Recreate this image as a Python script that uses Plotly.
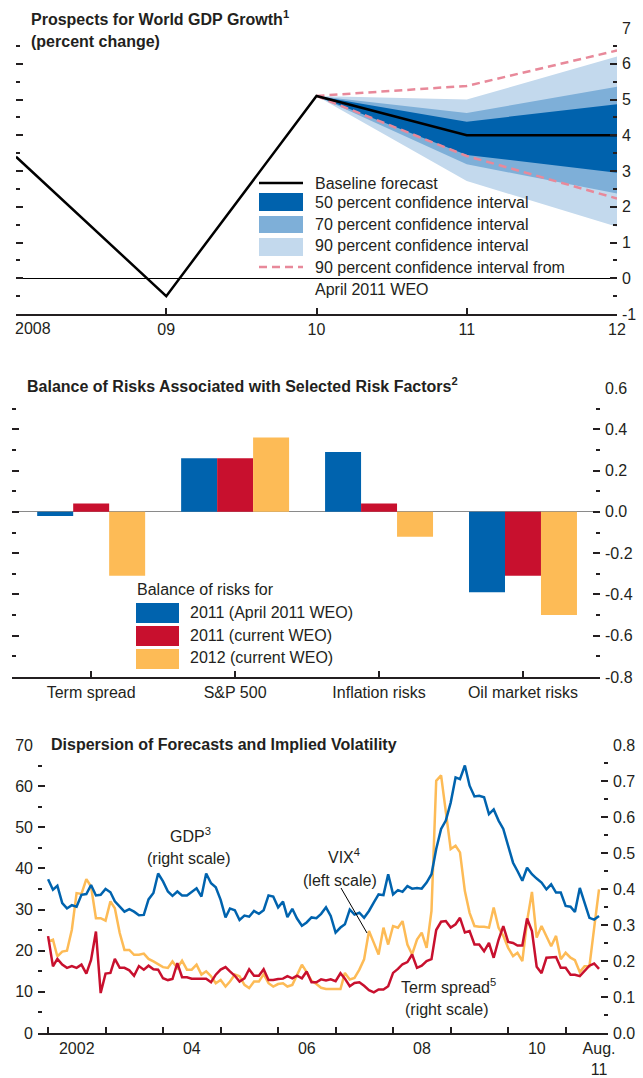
import plotly.graph_objects as go
import pandas as pd

W, H = 643, 1078
def px(x): return x / W
def py(y): return 1 - y / H

FONT = "Liberation Sans, Arial, sans-serif"
TXT = "#231f20"
AX = "#231f20"

# ---------------- Panel 1: Prospects for World GDP Growth ----------------
gdp_years = [2008, 2009, 2010, 2011, 2012]
gdp_baseline = [3.4, -0.5, 5.1, 4.0, 4.0]
fan_years = [2010, 2011, 2012]
ci90_upper = [5.1, 5.0, 6.2]
ci90_lower = [5.1, 2.72, 1.44]
ci70_upper = [5.1, 4.62, 5.36]
ci70_lower = [5.1, 3.19, 2.37]
ci50_upper = [5.1, 4.38, 4.87]
ci50_lower = [5.1, 3.45, 2.95]
apr_upper = [5.1, 5.38, 6.37]
apr_lower = [5.1, 3.42, 2.23]
p1_xticks = [2008, 2009, 2010, 2011, 2012]
p1_xlabels = ["", "09", "10", "11", "12"]
p1_first_label = "2008"
p1_yticks = [-1, 0, 1, 2, 3, 4, 5, 6, 7]
p1_ylabels = ["-1", "0", "1", "2", "3", "4", "5", "6", "7"]
p1_yminor = [-0.5, 0.5, 1.5, 2.5, 3.5, 4.5, 5.5, 6.5]

# ---------------- Panel 2: Balance of risks ----------------
risk_factors = ["Term spread", "S&P 500", "Inflation risks", "Oil market risks"]
risk_2011_april = [-0.02, 0.26, 0.29, -0.39]
risk_2011_current = [0.04, 0.26, 0.04, -0.31]
risk_2012_current = [-0.31, 0.36, -0.12, -0.50]
p2_yticks = [-0.8, -0.6, -0.4, -0.2, 0.0, 0.2, 0.4, 0.6]
p2_ylabels = ["-0.8", "-0.6", "-0.4", "-0.2", "0.0", "0.2", "0.4", "0.6"]
p2_yminor = [-0.7, -0.5, -0.3, -0.1, 0.1, 0.3, 0.5]

# ---------------- Panel 3: Dispersion of forecasts and VIX ----------------
months = pd.date_range("2002-01-01", "2011-08-01", freq="MS")
gdp_dispersion = [
    0.427, 0.398, 0.409, 0.361, 0.346, 0.355, 0.351, 0.384, 0.386, 0.411,
    0.382, 0.384, 0.400, 0.391, 0.366, 0.351, 0.337, 0.344, 0.337, 0.327,
    0.328, 0.371, 0.389, 0.443, 0.421, 0.393, 0.381, 0.393, 0.382, 0.382,
    0.393, 0.402, 0.379, 0.443, 0.416, 0.405, 0.370, 0.321, 0.346, 0.341,
    0.314, 0.326, 0.323, 0.339, 0.331, 0.341, 0.382, 0.379, 0.349, 0.365,
    0.322, 0.345, 0.318, 0.298, 0.307, 0.321, 0.319, 0.331, 0.349, 0.325,
    0.279, 0.293, 0.302, 0.343, 0.329, 0.334, 0.320, 0.339, 0.363, 0.385,
    0.383, 0.441, 0.385, 0.397, 0.392, 0.408, 0.401, 0.403, 0.401, 0.418,
    0.441, 0.511, 0.567, 0.590, 0.640, 0.710, 0.705, 0.743, 0.687, 0.657,
    0.659, 0.655, 0.608, 0.621, 0.590, 0.567, 0.520, 0.473, 0.450, 0.423,
    0.459, 0.441, 0.429, 0.418, 0.399, 0.413, 0.390, 0.390, 0.353, 0.351,
    0.336, 0.403, 0.362, 0.320, 0.315, 0.325,
]
term_spread = [
    0.269, 0.185, 0.206, 0.190, 0.181, 0.186, 0.181, 0.190, 0.165, 0.203,
    0.282, 0.111, 0.165, 0.167, 0.206, 0.181, 0.181, 0.174, 0.159, 0.186,
    0.176, 0.187, 0.177, 0.176, 0.152, 0.147, 0.150, 0.194, 0.155, 0.155,
    0.151, 0.151, 0.151, 0.151, 0.141, 0.162, 0.176, 0.183, 0.171, 0.159,
    0.143, 0.152, 0.177, 0.159, 0.159, 0.177, 0.147, 0.147, 0.150, 0.151,
    0.158, 0.152, 0.159, 0.152, 0.171, 0.141, 0.141, 0.149, 0.146, 0.149,
    0.144, 0.166, 0.151, 0.130, 0.139, 0.141, 0.131, 0.119, 0.113, 0.121,
    0.121, 0.130, 0.167, 0.178, 0.191, 0.197, 0.218, 0.181, 0.187, 0.200,
    0.205, 0.286, 0.309, 0.311, 0.293, 0.302, 0.320, 0.279, 0.283, 0.246,
    0.246, 0.227, 0.250, 0.209, 0.259, 0.297, 0.253, 0.250, 0.243, 0.243,
    0.318, 0.283, 0.184, 0.166, 0.209, 0.209, 0.211, 0.181, 0.181, 0.162,
    0.162, 0.158, 0.171, 0.187, 0.193, 0.178,
]
vix = [
    22.2, 22.7, 18.6, 19.8, 20.0, 25.1, 34.0, 33.8, 37.4, 35.6,
    27.9, 27.9, 27.3, 32.0, 30.3, 24.3, 20.2, 20.2, 19.0, 19.0,
    19.3, 18.0, 17.4, 16.7, 16.0, 15.8, 17.4, 15.8, 17.6, 15.4,
    15.4, 16.6, 14.2, 15.0, 13.8, 12.1, 12.9, 11.3, 12.5, 14.2,
    13.8, 11.7, 10.9, 12.5, 12.5, 14.3, 12.1, 11.3, 11.9, 12.1,
    11.3, 11.7, 14.2, 16.6, 14.8, 12.7, 11.9, 11.0, 10.7, 10.7,
    10.7, 10.7, 14.6, 13.0, 13.4, 15.4, 17.9, 24.8, 21.9, 19.1,
    25.6, 21.5, 26.0, 25.6, 27.2, 21.5, 19.1, 22.7, 24.4, 20.7,
    29.7, 61.3, 62.6, 54.0, 44.7, 45.5, 43.9, 34.5, 29.2, 26.0,
    25.8, 25.8, 25.6, 30.5, 25.6, 23.6, 20.7, 18.7, 19.5, 17.5,
    27.2, 34.3, 23.2, 26.0, 23.6, 21.1, 23.6, 17.9, 19.5, 18.3,
    17.7, 14.8, 16.2, 16.2, 25.5, 34.9,
]
p3_label_pos = ["2002-07-02", "2004-07-02", "2006-07-02", "2008-07-02", "2010-07-02", "2011-08-01"]
p3_labels = ["2002", "04", "06", "08", "10", "Aug.<br>11"]
p3_year_ticks = [f"{y}-01-01" for y in range(2002, 2012)]
p3_left_ticks = [0, 10, 20, 30, 40, 50, 60, 70]
p3_left_minor = [5, 15, 25, 35, 45, 55, 65]
p3_right_ticks = [0.0, 0.1, 0.2, 0.3, 0.4, 0.5, 0.6, 0.7, 0.8]
p3_right_labels = ["0.0", "0.1", "0.2", "0.3", "0.4", "0.5", "0.6", "0.7", "0.8"]
p3_right_minor = [0.05, 0.15, 0.25, 0.35, 0.45, 0.55, 0.65, 0.75]

# colours
C_BLUE = "#0063ae"
C_RED = "#c8102e"
C_ORANGE = "#fdbb56"
C_FAN50 = "#0062ad"
C_FAN70 = "#7eafd8"
C_FAN90 = "#c3d9ed"
C_PINK = "#e8899a"

fig = go.Figure()

# ---- panel 1 traces
def band(upper, lower, color):
    fig.add_trace(go.Scatter(
        x=fan_years + fan_years[::-1], y=upper + lower[::-1],
        fill="toself", fillcolor=color, line=dict(width=0), mode="lines",
        showlegend=False, hoverinfo="skip", xaxis="x", yaxis="y"))

band(ci90_upper, ci90_lower, C_FAN90)
band(ci70_upper, ci70_lower, C_FAN70)
band(ci50_upper, ci50_lower, C_FAN50)
for arr in (apr_upper, apr_lower):
    fig.add_trace(go.Scatter(x=fan_years, y=arr, mode="lines",
                             line=dict(color=C_PINK, width=2.5, dash="8px,5px"),
                             showlegend=False, xaxis="x", yaxis="y"))
fig.add_trace(go.Scatter(x=gdp_years, y=gdp_baseline, mode="lines",
                         line=dict(color="black", width=2.5),
                         showlegend=False, xaxis="x", yaxis="y"))
# empty trace so the right-hand scale of panel 1 is drawn
fig.add_trace(go.Scatter(x=[], y=[], showlegend=False, xaxis="x", yaxis="y2"))

# ---- panel 2 traces
for vals, col in ((risk_2011_april, C_BLUE), (risk_2011_current, C_RED), (risk_2012_current, C_ORANGE)):
    fig.add_trace(go.Bar(x=list(range(len(risk_factors))), y=vals, marker=dict(color=col, line=dict(width=0)),
                         showlegend=False, xaxis="x2", yaxis="y3"))
fig.add_trace(go.Scatter(x=[], y=[], showlegend=False, xaxis="x2", yaxis="y4"))

# ---- panel 3 traces
fig.add_trace(go.Scatter(x=months, y=vix, mode="lines", line=dict(color=C_ORANGE, width=2.5),
                         showlegend=False, xaxis="x3", yaxis="y5"))
fig.add_trace(go.Scatter(x=months, y=term_spread, mode="lines", line=dict(color=C_RED, width=2.5),
                         showlegend=False, xaxis="x3", yaxis="y6"))
fig.add_trace(go.Scatter(x=months, y=gdp_dispersion, mode="lines", line=dict(color=C_BLUE, width=2.5),
                         showlegend=False, xaxis="x3", yaxis="y6"))

TS = 16
tickfont = dict(family=FONT, size=TS, color=TXT)

def yax(domain, rng, tickvals, minorvals, side, labels=None, anchor=None, overlaying=None, ticklen=7, mlen=4):
    d = dict(domain=domain, range=rng, tickmode="array", tickvals=tickvals,
             ticks="inside", ticklen=ticklen, tickwidth=2, tickcolor=AX,
             minor=dict(tickmode="array", tickvals=minorvals, ticks="inside", ticklen=mlen,
                        tickwidth=2, tickcolor=AX, showgrid=False),
             showgrid=False, zeroline=False, showline=False, side=side,
             fixedrange=True, automargin=False, tickfont=tickfont,
             ticklabeloverflow="allow", ticklabelstandoff=4)
    if labels is None:
        d["showticklabels"] = False
    else:
        d["ticktext"] = labels
    if anchor:
        d["anchor"] = anchor
    if overlaying:
        d["overlaying"] = overlaying
    return d

D1 = [py(314), py(28)]
D2 = [py(677), py(388)]
D3 = [py(1033), py(745)]

layout = dict(
    width=W, height=H, autosize=False,
    margin=dict(l=0, r=0, t=0, b=0),
    paper_bgcolor="white", plot_bgcolor="rgba(0,0,0,0)",
    font=dict(family=FONT, color=TXT),
    barmode="group", bargap=0.25, bargroupgap=0,
    showlegend=False,
    xaxis=dict(domain=[px(16), px(617)], range=[2008, 2012], anchor="y",
               tickmode="array", tickvals=p1_xticks, ticktext=p1_xlabels,
               ticks="inside", ticklen=6, tickwidth=1.5, tickcolor=AX,
               showline=True, linecolor=AX, linewidth=1.5, showgrid=False, zeroline=False,
               tickfont=tickfont, automargin=False, fixedrange=True, ticklabeloverflow="allow"),
    yaxis=yax(D1, [-1, 7], p1_yticks, p1_yminor, "left", anchor="x"),
    yaxis2=yax(D1, [-1, 7], p1_yticks, p1_yminor, "right", labels=p1_ylabels, anchor="x", overlaying="y"),
    xaxis2=dict(domain=[px(12), px(600)], range=[-0.55, 3.535], anchor="y3",
                tickmode="array", tickvals=list(range(len(risk_factors))), ticktext=risk_factors,
                ticks="inside", ticklen=6, tickwidth=1.5, tickcolor=AX,
                showline=True, linecolor=AX, linewidth=1.5, showgrid=False, zeroline=False,
                tickfont=tickfont, automargin=False, fixedrange=True, ticklabeloverflow="allow"),
    yaxis3=yax(D2, [-0.8, 0.6], p2_yticks, p2_yminor, "left", anchor="x2"),
    yaxis4=yax(D2, [-0.8, 0.6], p2_yticks, p2_yminor, "right", labels=p2_ylabels, anchor="x2", overlaying="y3"),
    xaxis3=dict(domain=[px(38), px(608)], type="date", range=["2001-10-29", "2011-09-27"], anchor="y5",
                tickmode="array", tickvals=p3_label_pos, ticktext=p3_labels, ticks="",
                minor=dict(tickmode="array", tickvals=p3_year_ticks, ticks="inside", ticklen=6,
                           tickwidth=1.5, tickcolor=AX, showgrid=False),
                showline=True, linecolor=AX, linewidth=1.5, showgrid=False, zeroline=False,
                tickfont=tickfont, automargin=False, fixedrange=True, ticklabeloverflow="allow"),
    yaxis5=yax(D3, [0, 70], p3_left_ticks, p3_left_minor, "left",
               labels=[str(v) for v in p3_left_ticks], anchor="x3"),
    yaxis6=yax(D3, [0, 0.8], p3_right_ticks, p3_right_minor, "right",
               labels=p3_right_labels, anchor="x3", overlaying="y5"),
)
layout["yaxis"]["zeroline"] = True
layout["yaxis"]["zerolinecolor"] = "black"
layout["yaxis"]["zerolinewidth"] = 1.2
layout["yaxis3"]["zeroline"] = True
layout["yaxis3"]["zerolinecolor"] = "#8a8a8a"
layout["yaxis3"]["zerolinewidth"] = 1.2
fig.update_layout(**layout)

shapes = []
annotations = []

def text(x, y, s, size=16, anchor="left", bold=False, family=FONT):
    annotations.append(dict(x=px(x), y=py(y), xref="paper", yref="paper", text=("<b>%s</b>" % s) if bold else s,
                            showarrow=False, xanchor=anchor, yanchor="middle",
                            font=dict(family=family, size=size, color=TXT)))

def rect(x0, y0, x1, y1, col):
    shapes.append(dict(type="rect", xref="paper", yref="paper", x0=px(x0), x1=px(x1), y0=py(y0), y1=py(y1),
                       fillcolor=col, line=dict(width=0)))

def hline(x0, x1, y, col, width=2.5, dash="solid"):
    shapes.append(dict(type="line", xref="paper", yref="paper", x0=px(x0), x1=px(x1), y0=py(y), y1=py(y),
                       line=dict(color=col, width=width, dash=dash)))

TT = 16
# Panel 1 titles & legend
text(29, 18, "Prospects for World GDP Growth<sup>1</sup>", size=TT, bold=True)
text(29, 41, "(percent change)", size=TT, bold=True)
text(13, 328, p1_first_label)
hline(259, 303, 183, "black")
rect(259, 193, 303, 211, C_FAN50)
rect(259, 216, 303, 233, C_FAN70)
rect(259, 238, 303, 256, C_FAN90)
hline(259, 303, 267, C_PINK, dash="8px,5px")
text(313, 183, "Baseline forecast")
text(313, 202, "50 percent confidence interval")
text(313, 224, "70 percent confidence interval")
text(313, 246, "90 percent confidence interval")
text(313, 267, "90 percent confidence interval from")
text(313, 289, "April 2011 WEO")

# Panel 2 title & legend
text(25, 385, "Balance of Risks Associated with Selected Risk Factors<sup>2</sup>", size=TT, bold=True)
text(135, 589, "Balance of risks for")
rect(136, 603, 179, 623, C_BLUE)
rect(136, 626, 179, 646, C_RED)
rect(136, 649, 179, 669, C_ORANGE)
text(188, 612, "2011 (April 2011 WEO)")
text(188, 635, "2011 (current WEO)")
text(188, 657, "2012 (current WEO)")

# Panel 3 title & labels
text(49, 744, "Dispersion of Forecasts and Implied Volatility", size=TT, bold=True)
text(190, 835, "GDP<sup>3</sup>", anchor="center")
text(189, 858, "(right scale)", anchor="center")
text(344, 856, "VIX<sup>4</sup>", anchor="center")
text(340, 880, "(left scale)", anchor="center")
text(448, 986, "Term spread<sup>5</sup>", anchor="center")
text(447, 1009, "(right scale)", anchor="center")
shapes.append(dict(type="line", xref="paper", yref="paper", x0=px(341), y0=py(888), x1=px(367), y1=py(933),
                   line=dict(color="black", width=1)))

fig.update_layout(shapes=shapes, annotations=annotations)
fig.write_html("out.html", config={"displayModeBar": False},
               post_script="document.body.style.margin='0';document.body.style.overflow='hidden';")
